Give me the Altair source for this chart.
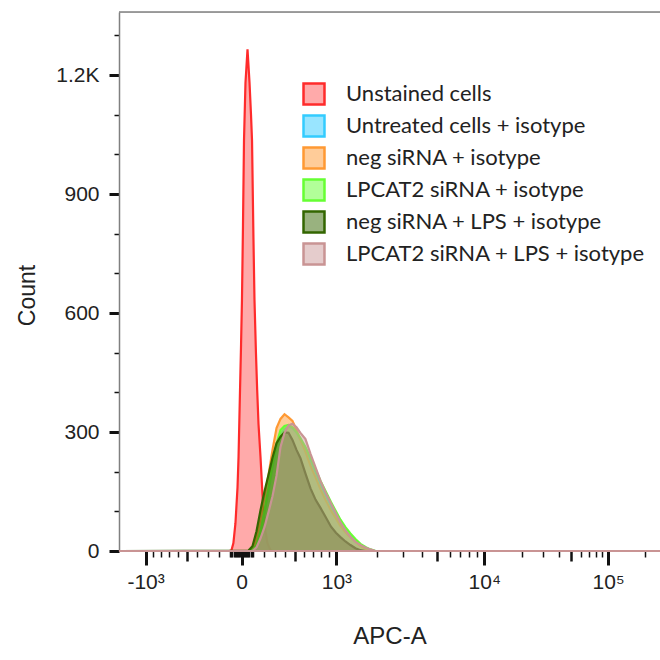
import numpy as np
import pandas as pd
import altair as alt

# ---------------- data ----------------
SERIES = [
    "Unstained cells",
    "Untreated cells + isotype",
    "neg siRNA + isotype",
    "LPCAT2 siRNA + isotype",
    "neg siRNA + LPS + isotype",
    "LPCAT2 siRNA + LPS + isotype",
]
STROKE_COLORS = ["#FF2B2B", "#33CCFF", "#FF9933", "#66FF33", "#336600", "#C99494"]
FILL_COLORS = ["rgba(255,43,43,0.4)", "rgba(51,204,255,0.5)", "rgba(255,153,51,0.5)",
               "rgba(102,255,51,0.5)", "rgba(51,102,0,0.5)", "rgba(204,153,153,0.5)"]

# APC-A range shown
X_MIN, X_MAX = -1420, 262000

# Unstained cells histogram (APC-A, count)
RED_X = [-106, -88, -71, -53, -35, -26, -13, -4, 4, 13, 22, 35, 53, 71, 84, 93,
         106, 115, 128, 139, 151, 169, 193, 214, 232, 260, 279]
RED_COUNT = [0, 2, 20, 70, 160, 237, 406, 520, 633, 820, 1036, 1180, 1265, 1180,
             1100, 1036, 784, 633, 500, 406, 320, 237, 111, 50, 20, 2, 0]

# isotype histograms share one APC-A grid
ISO_X = [62, 97, 133, 169, 205, 242, 279, 317, 355, 394, 434, 474, 516, 558, 613,
         670, 730, 791, 856, 923, 993, 1078, 1179, 1287, 1402, 1525, 1655, 1795, 1944]
BLUE = [0, 2, 10, 45, 95, 150, 210, 262, 295, 308, 313, 310, 298, 280, 255, 228,
        198, 168, 140, 114, 91, 70, 52, 37, 25, 14, 7, 2, 0]
ORANGE = [0, 6, 35, 82, 138, 192, 255, 310, 333, 345, 337, 328, 305, 280, 250, 215,
          185, 155, 128, 103, 82, 63, 47, 34, 24, 12, 6, 1, 0]
GREEN = [0, 3, 15, 50, 100, 160, 220, 270, 305, 315, 318, 312, 300, 285, 262, 235,
         205, 176, 150, 124, 100, 79, 60, 44, 30, 18, 10, 4, 0]
DKGREEN = [1, 12, 50, 103, 150, 192, 235, 272, 288, 299, 298, 280, 255, 234, 195,
           158, 129, 108, 85, 62, 46, 35, 24, 15, 7, 2, 0, 0, 0]
PINK = [0, 0, 9, 32, 60, 98, 138, 190, 262, 298, 317, 321, 312, 298, 282, 245, 210,
        176, 147, 121, 95, 72, 52, 36, 23, 15, 9, 4, 0]

# axis ticks
X_MAJOR_VALUES = [-1000, 0, 1000, 10000, 100000]
X_MAJOR_LABELS = ["-10³", "0", "10³", "10⁴", "10⁵"]
X_MEDIUM_VALUES = [-500, 500, 5000, 50000]
X_MINOR_VALUES = ([-900, -800, -700, -600, -400, -300, -200, -100]
                  + [-90, -80, -70, -60, -50, -40, -30, -20, -10]
                  + [10, 20, 30, 40, 50, 60, 70, 80, 90]
                  + [100, 200, 300, 400, 600, 700, 800, 900]
                  + [2000, 3000, 4000, 6000, 7000, 8000, 9000]
                  + [20000, 30000, 40000, 60000, 70000, 80000, 90000, 200000])

Y_TICK_VALUES = list(range(0, 1400, 100))
Y_MAJOR_VALUES = [0, 300, 600, 900, 1200]
Y_MAJOR_LABELS = ["0", "300", "600", "900", "1.2K"]
Y_MAX = 1359

# ---------------- display transform (biexponential-like axis) ----------------
AXIS_COFACTOR = 800.0
AXIS_ANCHOR_VALUES = [-1000, 0, 1000, 10000, 100000]
AXIS_ANCHOR_POS = [-96, 0, 95, 243, 367]


def to_display(v):
    u = np.arcsinh(np.atleast_1d(np.asarray(v, float)) / AXIS_COFACTOR)
    ua = np.arcsinh(np.array(AXIS_ANCHOR_VALUES, float) / AXIS_COFACTOR)
    pa = np.array(AXIS_ANCHOR_POS, float)
    out = np.interp(u, ua, pa)
    lo = u < ua[0]
    hi = u > ua[-1]
    out[lo] = pa[0] + (u[lo] - ua[0]) * (pa[1] - pa[0]) / (ua[1] - ua[0])
    out[hi] = pa[-1] + (u[hi] - ua[-1]) * (pa[-1] - pa[-2]) / (ua[-1] - ua[-2])
    return np.round(out, 3)


rows = []
series_data = [
    (SERIES[0], RED_X, RED_COUNT),
    (SERIES[1], ISO_X, BLUE),
    (SERIES[2], ISO_X, ORANGE),
    (SERIES[3], ISO_X, GREEN),
    (SERIES[4], ISO_X, DKGREEN),
    (SERIES[5], ISO_X, PINK),
]
for i, (name, xs, cs) in enumerate(series_data):
    xs_full = [X_MIN] + list(xs) + [X_MAX]
    cs_full = [0] + list(cs) + [0]
    disp = to_display(xs_full)
    for a, d, c in zip(xs_full, disp, cs_full):
        rows.append({"series": name, "apc": a, "disp": float(d), "count": c})
df = pd.DataFrame(rows)

x_dom = [float(to_display(X_MIN)[0]), float(to_display(X_MAX)[0])]
maj_pos = [float(p) for p in to_display(X_MAJOR_VALUES)]
med_pos = [float(p) for p in to_display(X_MEDIUM_VALUES)]
min_pos = [float(p) for p in to_display(X_MINOR_VALUES)]
all_x_ticks = sorted(maj_pos + med_pos + min_pos)

x_label_expr = ""
for p, lab in zip(maj_pos, X_MAJOR_LABELS):
    x_label_expr += f"datum.value == {p} ? '{lab}' : "
x_label_expr += "''"
maj_list = "[" + ",".join(str(p) for p in maj_pos) + "]"
med_list = "[" + ",".join(str(p) for p in med_pos) + "]"

y_label_expr = ""
for v, lab in zip(Y_MAJOR_VALUES, Y_MAJOR_LABELS):
    y_label_expr += f"datum.value == {v} ? '{lab}' : "
y_label_expr += "''"
ymaj_list = "[" + ",".join(str(v) for v in Y_MAJOR_VALUES) + "]"

FONT = "Liberation Sans"
TXT = "#222222"
FRAME = "#808080"

x_axis = alt.Axis(
    values=all_x_ticks,
    labelExpr=x_label_expr,
    tickSize={"condition": [
        {"test": f"indexof({maj_list}, datum.value) >= 0", "value": 14},
        {"test": f"indexof({med_list}, datum.value) >= 0", "value": 10}],
        "value": 6},
    tickWidth={"condition": [
        {"test": f"indexof({maj_list}, datum.value) >= 0", "value": 3},
        {"test": f"indexof({med_list}, datum.value) >= 0", "value": 2.5}],
        "value": 1.5},
    tickColor="#111111",
    domain=False,
    grid=False,
    labelFont=FONT,
    labelFontSize=21,
    labelColor=TXT,
    labelPadding=6,
    labelFlush=False,
    labelOverlap=False,
    title="APC-A",
    titleFont=FONT,
    titleFontSize=24,
    titleFontWeight="normal",
    titleColor=TXT,
    titleX=270.5,
    titleY=85,
    titleBaseline="middle",
)

y_axis = alt.Axis(
    values=Y_TICK_VALUES,
    labelExpr=y_label_expr,
    tickSize={"condition": {"test": f"indexof({ymaj_list}, datum.value) >= 0", "value": 10},
              "value": 5},
    tickWidth={"condition": {"test": f"indexof({ymaj_list}, datum.value) >= 0", "value": 3},
               "value": 1.5},
    tickColor="#111111",
    domain=True,
    domainColor=FRAME,
    domainWidth=1.5,
    grid=False,
    labelFont=FONT,
    labelFontSize=21,
    labelColor=TXT,
    labelPadding=10,
    labelOverlap=False,
    title="Count",
    titleFont=FONT,
    titleFontSize=23,
    titleFontWeight="normal",
    titleColor=TXT,
    titleX=-92,
    titleY=283,
    titleBaseline="middle",
)

legend = alt.Legend(
    title=None,
    orient="none",
    legendX=183,
    legendY=70,
    symbolType="square",
    symbolSize=440,
    symbolStrokeWidth=2.5,
    labelFont="Lato",
    labelFontSize=22,
    labelColor=TXT,
    labelOffset=20,
    labelLimit=500,
    rowPadding=0,
    padding=0,
)

areas = alt.Chart(df).mark_area(
    strokeWidth=2.2, interpolate="linear"
).encode(
    x=alt.X("disp:Q", scale=alt.Scale(domain=x_dom, nice=False, zero=False), axis=x_axis),
    y=alt.Y("count:Q", stack=None, scale=alt.Scale(domain=[0, Y_MAX], nice=False), axis=y_axis),
    fill=alt.Fill("series:N", scale=alt.Scale(domain=SERIES, range=FILL_COLORS), legend=legend),
    stroke=alt.Stroke("series:N", scale=alt.Scale(domain=SERIES, range=STROKE_COLORS), legend=legend),
)

top_frame = alt.Chart(pd.DataFrame({"frame": ["top"]})).mark_rule(
    color=FRAME, strokeWidth=1.5
).encode(x=alt.value(0), x2=alt.value(541), y=alt.value(0))

chart = alt.layer(areas, top_frame).properties(
    width=541,
    height=539,
    autosize=alt.AutoSizeParams(type="none"),
    padding={"left": 119, "top": 12, "right": 0, "bottom": 109},
).configure_view(
    stroke="transparent"
).configure(background="white")

chart.save("out.html", embed_options={"renderer": "svg", "actions": False})
